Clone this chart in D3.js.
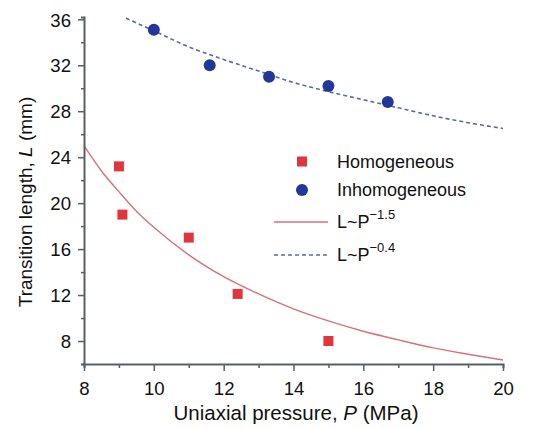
<!DOCTYPE html>
<html><head><meta charset="utf-8">
<script src="https://cdn.jsdelivr.net/npm/d3@7"></script>
<style>body{margin:0;background:#fff}svg text{font-family:"Liberation Sans",Arial,Helvetica,sans-serif}</style>
</head><body><svg id="c" width="535" height="429"></svg>
<script>
const homP = [9.0, 9.1, 11.0, 12.4, 15.0];
const homL = [23.2, 19.0, 17.0, 12.1, 8.0];
const inhP = [10.0, 11.6, 13.3, 15.0, 16.7];
const inhL = [35.1, 32.0, 31.0, 30.2, 28.8];
// fitted curves
const fitAP = [8, 8.5, 9, 9.5, 10, 11, 12, 13, 14, 15, 16, 17, 18, 19, 20];
const fitAL = [25.0, 22.8, 21.0, 19.3, 17.9, 15.5, 13.6, 12.1, 10.8, 9.75, 8.85, 8.1, 7.4, 6.85, 6.35];
const fitBP = [9.2, 10, 11, 12, 13, 14, 15, 16, 17, 18, 19, 20];
const fitBL = [36.1, 35.0, 33.6, 32.5, 31.5, 30.5, 29.7, 29.0, 28.3, 27.6, 27.0, 26.5];
const xTicks = [8, 10, 12, 14, 16, 18, 20];
const yTicks = [8, 12, 16, 20, 24, 28, 32, 36];
const legendNames = ["Homogeneous", "Inhomogeneous", "L~P", "L~P"];
const legendSup = ["", "", "\u22121.5", "\u22120.4"];

const svg = d3.select("#c");
const x = d3.scaleLinear().domain([8, 20]).range([84, 503]);
const y = d3.scaleLinear().domain([6, 36.2]).range([364, 17]);
const axisCol = "#5a5f66";
const red = "#e0353d", blue = "#23369a";

// fitted curves
const line = d3.line().x(d => x(d[0])).y(d => y(d[1])).curve(d3.curveMonotoneX);
svg.append("path").attr("d", line(fitAP.map((p, i) => [p, fitAL[i]])))
  .attr("fill", "none").attr("stroke", "#d8707a").attr("stroke-width", 1.4);
svg.append("path").attr("d", line(fitBP.map((p, i) => [p, fitBL[i]])))
  .attr("fill", "none").attr("stroke", "#5d6b96").attr("stroke-width", 1.6).attr("stroke-dasharray", "4,3");

// axes
const gx = svg.append("g").attr("transform", "translate(0,364)");
gx.call(d3.axisBottom(x).tickValues(d3.range(8, 20.01, 1)).tickSize(4).tickFormat(""));
gx.call(g => g.selectAll(".tick line").attr("stroke", axisCol).attr("stroke-width", 1.5));
gx.selectAll(".tick").filter(d => d % 2 === 0).select("line").attr("y2", 7);
gx.select(".domain").attr("stroke", axisCol).attr("stroke-width", 2);
gx.selectAll(".tick").filter(d => d % 2 === 0).append("text")
  .attr("y", 31).attr("text-anchor", "middle").attr("fill", "#111").attr("font-size", 18.6)
  .text(d => xTicks.includes(d) ? d : "");

const gy = svg.append("g").attr("transform", "translate(84,0)");
gy.call(d3.axisLeft(y).tickValues(d3.range(6, 36.01, 2)).tickSize(3).tickFormat(""));
gy.call(g => g.selectAll(".tick line").attr("stroke", axisCol).attr("stroke-width", 1.5));
gy.selectAll(".tick").filter(d => yTicks.includes(d)).select("line").attr("x2", -6);
gy.select(".domain").attr("stroke", axisCol).attr("stroke-width", 2);
gy.selectAll(".tick").filter(d => yTicks.includes(d)).append("text")
  .attr("x", -13).attr("dy", "0.36em").attr("text-anchor", "end").attr("fill", "#111").attr("font-size", 18.6)
  .text(d => d);

// axis titles
const xt = svg.append("text").attr("x", 296).attr("y", 420).attr("text-anchor", "middle")
  .attr("font-size", 20.5).attr("fill", "#111");
xt.append("tspan").text("Uniaxial pressure, ");
xt.append("tspan").attr("font-style", "italic").text("P");
xt.append("tspan").text(" (MPa)");
const yt = svg.append("text").attr("transform", "translate(32,202) rotate(-90)").attr("text-anchor", "middle")
  .attr("font-size", 19).attr("fill", "#111");
yt.append("tspan").text("Transition length, ");
yt.append("tspan").attr("font-style", "italic").text("L");
yt.append("tspan").text(" (mm)");

// points
svg.append("g").selectAll("rect").data(homP.map((p, i) => [p, homL[i]])).join("rect")
  .attr("x", d => x(d[0]) - 5).attr("y", d => y(d[1]) - 5).attr("width", 10).attr("height", 10).attr("fill", red);
svg.append("g").selectAll("circle").data(inhP.map((p, i) => [p, inhL[i]])).join("circle")
  .attr("cx", d => x(d[0])).attr("cy", d => y(d[1])).attr("r", 6).attr("fill", blue);

// legend
const ly = [161.5, 190, 222, 255];
const lg = svg.append("g");
lg.append("rect").attr("x", 297).attr("y", ly[0] - 5).attr("width", 10).attr("height", 10).attr("fill", red);
lg.append("circle").attr("cx", 302).attr("cy", ly[1]).attr("r", 6).attr("fill", blue);
lg.append("line").attr("x1", 274).attr("x2", 328).attr("y1", ly[2]).attr("y2", ly[2]).attr("stroke", "#d8707a").attr("stroke-width", 1.4);
lg.append("line").attr("x1", 274).attr("x2", 328).attr("y1", ly[3]).attr("y2", ly[3]).attr("stroke", "#5d6b96").attr("stroke-width", 1.6).attr("stroke-dasharray", "4,3");
legendNames.forEach((n, i) => {
  const t = lg.append("text").attr("x", 337).attr("y", ly[i]).attr("dy", "0.36em").attr("font-size", 18).attr("fill", "#111");
  t.append("tspan").text(n);
  if (legendSup[i]) t.append("tspan").attr("font-size", 13).attr("dy", "-0.75em").text(legendSup[i]);
});
</script></body></html>
